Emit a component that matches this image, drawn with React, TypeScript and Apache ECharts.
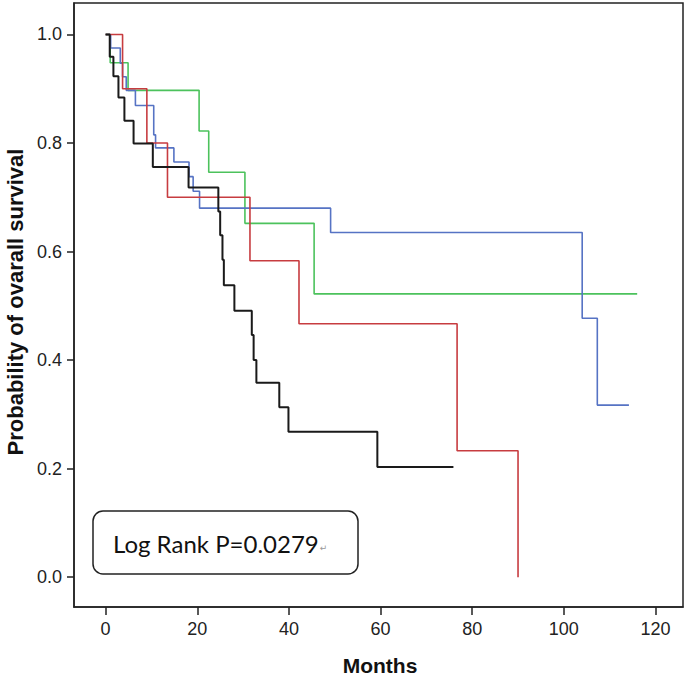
import React, { useEffect, useRef } from "react";
import * as echarts from "echarts";

// Kaplan-Meier curves: times (months) at which survival changes, and survival after change
const blackTimes = [0, 0.9, 1.7, 2.8, 4.1, 6.1, 10.3, 18.1, 24.6, 25.0, 25.5, 25.8, 28.1, 31.9, 32.3, 32.9, 37.9, 39.9, 59.3, 75.9];
const blackSurv = [1.0, 0.959, 0.923, 0.884, 0.841, 0.799, 0.756, 0.718, 0.674, 0.63, 0.585, 0.538, 0.491, 0.446, 0.4, 0.358, 0.313, 0.268, 0.203, 0.203];

const redTimes = [0, 3.7, 9.0, 13.5, 31.5, 42.2, 76.7, 90.0];
const redSurv = [1.0, 0.9, 0.8, 0.7, 0.583, 0.467, 0.233, 0.0];

const blueTimes = [0, 1.1, 3.2, 3.7, 4.5, 6.5, 10.5, 10.9, 14.9, 18.2, 19.1, 20.5, 49.1, 104.0, 107.3, 114.2];
const blueSurv = [1.0, 0.975, 0.947, 0.922, 0.897, 0.869, 0.815, 0.791, 0.765, 0.738, 0.711, 0.68, 0.635, 0.477, 0.317, 0.317];

const greenTimes = [0, 1.0, 4.9, 20.4, 22.5, 30.4, 45.5, 116.0];
const greenSurv = [1.0, 0.948, 0.897, 0.822, 0.746, 0.652, 0.522, 0.522];

const xTicks = [0, 20, 40, 60, 80, 100, 120];
const yTicks = [0, 0.2, 0.4, 0.6, 0.8, 1.0];

const xTitle = "Months";
const yTitle = "Probability of ovarall survival";
const noteText = "Log Rank P=0.0279";

const tickFont = "'Liberation Sans Narrow', 'Arial Narrow', 'Liberation Sans', sans-serif";
const titleFont = "'Liberation Sans', Arial, sans-serif";

function pairs(t: number[], s: number[]) {
  return t.map((v, i) => [v, s[i]]);
}

export default function App() {
  const ref = useRef<HTMLDivElement>(null);
  useEffect(() => {
    document.body.style.margin = "0";
    if (!ref.current) return;
    const chart = echarts.init(ref.current, null, { renderer: "svg" });
    const lineSeries = (name: string, t: number[], s: number[], color: string, width: number) => ({
      name,
      type: "line",
      step: "end",
      symbol: "none",
      showSymbol: false,
      data: pairs(t, s),
      lineStyle: { color, width },
      itemStyle: { color },
      z: 3,
    });
    chart.setOption({
      animation: false,
      grid: {
        left: 74,
        right: 3,
        top: 3,
        bottom: 70,
        show: true,
        borderColor: "#222",
        borderWidth: 1.5,
      },
      xAxis: {
        type: "value",
        min: -6.9,
        max: 126,
        axisLine: { show: true, onZero: false, lineStyle: { color: "#222", width: 1.5 } },
        axisTick: { show: true, inside: false, length: 8, customValues: xTicks, lineStyle: { color: "#222", width: 1.5 } },
        axisLabel: { customValues: xTicks, margin: 13, fontSize: 18, color: "#222", fontFamily: tickFont },
        splitLine: { show: false },
      },
      yAxis: {
        type: "value",
        min: -0.055,
        max: 1.058,
        axisLine: { show: true, onZero: false, lineStyle: { color: "#222", width: 1.5 } },
        axisTick: { show: true, inside: false, length: 7, customValues: yTicks, lineStyle: { color: "#222", width: 1.5 } },
        axisLabel: {
          customValues: yTicks,
          margin: 12,
          fontSize: 18,
          color: "#222",
          fontFamily: tickFont,
          formatter: (v: number) => v.toFixed(1),
        },
        splitLine: { show: false },
      },
      series: [
        lineSeries("Green", greenTimes, greenSurv, "#4cc25c", 1.6),
        lineSeries("Blue", blueTimes, blueSurv, "#5673c4", 1.6),
        lineSeries("Red", redTimes, redSurv, "#c73c40", 1.6),
        lineSeries("Black", blackTimes, blackSurv, "#1a1a1a", 2),
      ],
      graphic: [
        {
          type: "rect",
          shape: { x: 93, y: 511, width: 265, height: 63, r: 10 },
          style: { fill: "#fff", stroke: "#222", lineWidth: 1.5 },
          z: 10,
        },
        {
          type: "text",
          x: 113,
          y: 543,
          style: {
            text: "{a|" + noteText + "}{b|↵}",
            verticalAlign: "middle",
            rich: {
              a: { fontSize: 24, fontFamily: "Lato, 'Open Sans', sans-serif", fill: "#111" },
              b: { fontSize: 9, fill: "#999", fontFamily: "'DejaVu Sans', sans-serif", padding: [10, 0, 0, 1] },
            },
          },
          z: 11,
        },
        {
          type: "text",
          x: 380,
          y: 665,
          style: {
            text: xTitle,
            fontSize: 21,
            fontWeight: "bold",
            fontFamily: titleFont,
            fill: "#111",
            align: "center",
            verticalAlign: "middle",
          },
        },
        {
          type: "text",
          x: 15,
          y: 302,
          rotation: Math.PI / 2,
          style: {
            text: yTitle,
            fontSize: 22,
            fontWeight: "bold",
            fontFamily: titleFont,
            fill: "#111",
            align: "center",
            verticalAlign: "middle",
          },
        },
      ],
    });
    return () => chart.dispose();
  }, []);
  return <div ref={ref} style={{ width: 686, height: 677 }} />;
}
